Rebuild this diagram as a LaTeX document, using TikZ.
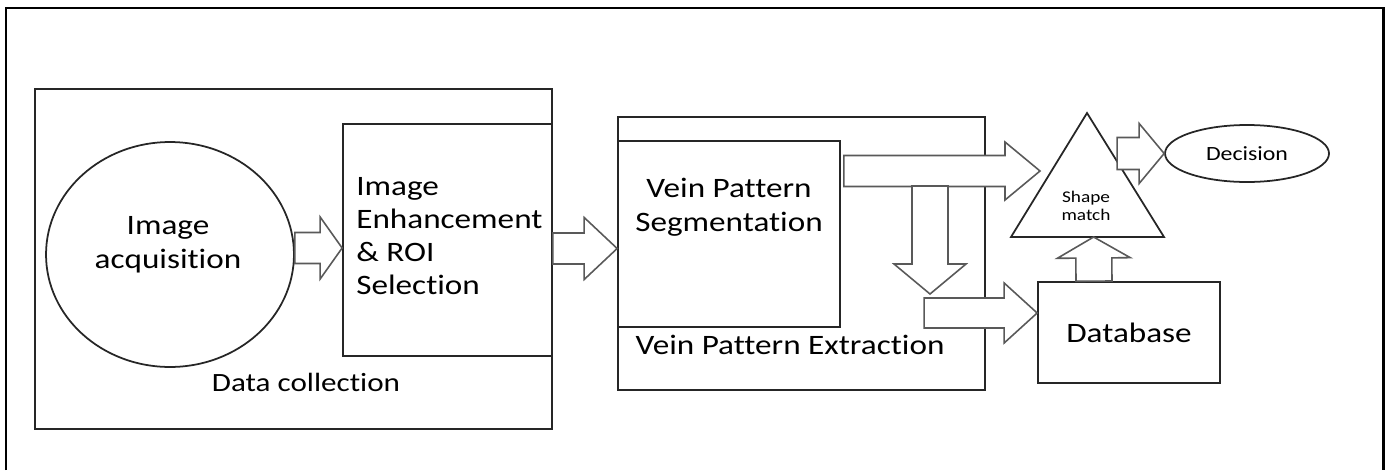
\documentclass[tikz,border=0pt]{standalone}
\usepackage{fontspec}
\setmainfont{Carlito}[FakeStretch=1.18,Ligatures=NoCommon]
\usetikzlibrary{positioning,shapes.geometric,calc}

% fat block arrow: start, tip, half shaft, half head, head length
\newcommand{\fatarrow}[5]{%
  \coordinate (fa-s) at #1;
  \coordinate (fa-t) at #2;
  \coordinate (fa-h) at ($(fa-t)!#5!(fa-s)$);
  \draw[blockarrow] ($(fa-s)!#3!90:(fa-t)$) -- ($(fa-h)!#3!90:(fa-t)$)
    -- ($(fa-h)!#4!90:(fa-t)$) -- (fa-t) -- ($(fa-h)!#4!-90:(fa-t)$)
    -- ($(fa-h)!#3!-90:(fa-t)$) -- ($(fa-s)!#3!-90:(fa-t)$) -- cycle;
}

\begin{document}
\begin{tikzpicture}[x=0.02cm,y=-0.02cm,line join=miter]
  \tikzstyle{box}=[draw=black!85,line width=1pt,inner sep=0pt,fill=none]
  \tikzstyle{blockarrow}=[draw=black!65,line width=0.9pt,fill=white]
  \tikzstyle{lbl}=[inner sep=0pt,text=black,font=\fontsize{16}{19.4}\selectfont]

  \useasboundingbox (0,0) rectangle (1391,470);
  \draw[line width=1.7pt] (6,470) -- (6,8) -- (1383,8) -- (1383,470);

  % data collection
  \node[box,minimum width=10.34cm,minimum height=6.8cm] (dc) at (293.5,259) {};
  \node[box,ellipse,minimum width=4.96cm,minimum height=4.5cm] (acq) at (170,254.5) {};
  \node[box,minimum width=4.18cm,minimum height=4.64cm] (enh) at (447.5,240) {};
  \node[lbl,font=\fontsize{15}{18}\selectfont] (dctext) at (306,382) {Data collection};
  \node[lbl,align=center] (acqtext) at (168,245) {Image\\acquisition};
  \node[lbl,align=left,anchor=west,font=\fontsize{16}{18.8}\selectfont] (enhtext) at (356,236)
    {Image\\Enhancement\\\& ROI\\Selection};

  % extraction
  \node[box,minimum width=7.34cm,minimum height=5.46cm] (ext) at (801.5,253.5) {};
  \node[box,minimum width=4.44cm,minimum height=3.72cm] (seg) at (729,234) {};
  \node[lbl,align=center] (segtext) at (729,207) {Vein Pattern\\Segmentation};
  \node[lbl] (exttext) at (790,345) {Vein Pattern Extraction};

  % matching
  \coordinate (apex) at (1087,113);
  \coordinate (bl) at (1011,237);
  \coordinate (br) at (1164,237);
  \draw[box] (apex) -- (bl) -- (br) -- cycle;
  \node[lbl,align=center,font=\fontsize{9.3}{10.4}\selectfont] (sm) at (1086,206) {Shape\\match};
  \node[box,minimum width=3.64cm,minimum height=2.02cm,font=\fontsize{16}{19.4}\selectfont] (db) at (1129,332.5) {Database};
  \node[box,ellipse,minimum width=3.28cm,minimum height=1.14cm,font=\fontsize{11.5}{13}\selectfont] (dec) at (1247,153.5) {Decision};

  % free ends
  \coordinate (segout) at ($(seg.east)+(3,-63)$);
  \coordinate (smin) at (1040,171);
  \coordinate (split) at (930,186);
  \coordinate (dtip) at (930,294);
  \coordinate (dbout) at ($(db.west)+(-113,-19.5)$);
  \coordinate (upin) at ($(bl)!.54!(br)$);
  \coordinate (smout) at ($(dec.west)+(-47,0)$);

  \fatarrow{($(acq.east)+(0,-6.5)$)}{($(enh.west)+(0,8)$)}{0.31cm}{0.62cm}{0.44cm}
  \fatarrow{($(enh.east)+(0,8.5)$)}{($(ext.west)+(0,-5)$)}{0.31cm}{0.62cm}{0.66cm}
  \fatarrow{(segout)}{(smin)}{0.31cm}{0.58cm}{0.7cm}
  \fatarrow{(split)}{(dtip)}{0.36cm}{0.72cm}{0.6cm}
  \fatarrow{(dbout)}{($(db.west)+(0,-19.5)$)}{0.3cm}{0.6cm}{0.66cm}
  \fatarrow{($(db.north)+(-35,0)$)}{(upin)}{0.36cm}{0.73cm}{0.42cm}
  \fatarrow{(smout)}{(dec.west)}{0.32cm}{0.6cm}{0.5cm}
\end{tikzpicture}
\end{document}
